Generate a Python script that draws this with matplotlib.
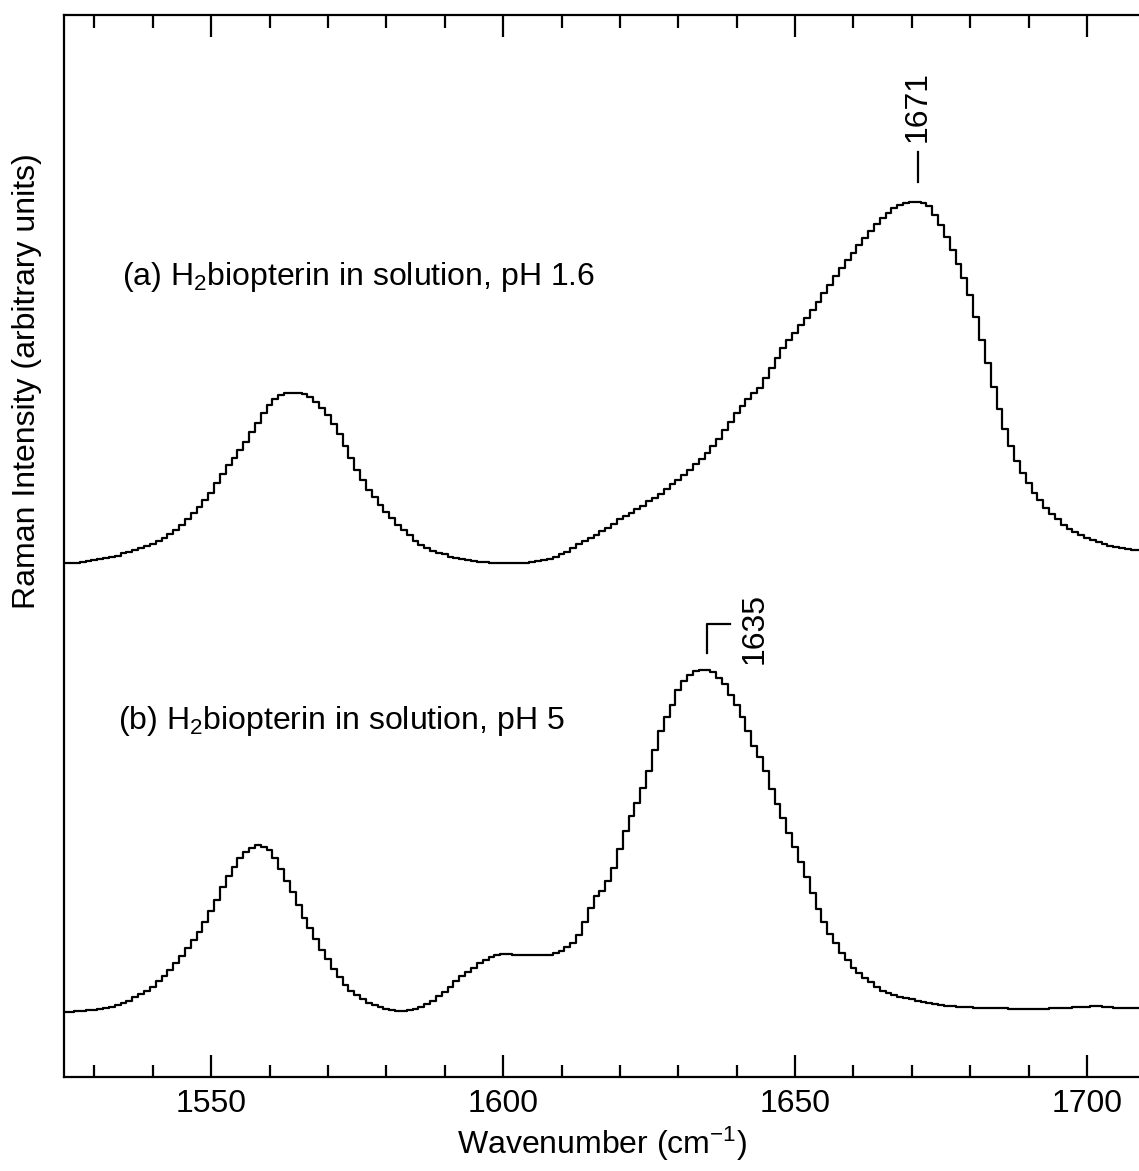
import numpy as np
import matplotlib
matplotlib.use("Agg")
import matplotlib.pyplot as plt
from matplotlib.ticker import MultipleLocator

plt.rcParams['font.family'] = ['Liberation Sans', 'DejaVu Sans']
plt.rcParams['mathtext.fontset'] = 'custom'
plt.rcParams['mathtext.rm'] = 'Liberation Sans'
plt.rcParams['mathtext.it'] = 'Liberation Sans:italic'

# --- spectra, one point per cm-1 starting at 1525 ---
WN_START = 1525

# (a) pH 1.6, offset upward
spec_a = [
    48.4, 48.4, 48.4, 48.5, 48.6, 48.7, 48.8, 48.9, 49.0, 49.1,   # 1525-1534
    49.3, 49.4, 49.6, 49.8, 50.0, 50.2, 50.5, 50.8, 51.1, 51.5,   # 1535-1544
    52.0, 52.5, 53.1, 53.7, 54.3, 55.0, 55.9, 56.8, 57.6, 58.3,   # 1545-1554
    59.0, 59.8, 60.7, 61.6, 62.5, 63.3, 63.8, 64.2, 64.4, 64.4,   # 1555-1564
    64.4, 64.3, 64.0, 63.6, 63.0, 62.3, 61.5, 60.5, 59.4, 58.3,   # 1565-1574
    57.2, 56.2, 55.3, 54.6, 53.9, 53.2, 52.6, 52.0, 51.5, 51.0,   # 1575-1584
    50.5, 50.1, 49.8, 49.5, 49.3, 49.2, 49.0, 48.9, 48.8, 48.7,   # 1585-1594
    48.6, 48.5, 48.5, 48.4, 48.4, 48.4, 48.4, 48.4, 48.4, 48.4,   # 1595-1604
    48.5, 48.6, 48.7, 48.8, 49.0, 49.2, 49.4, 49.8, 50.2, 50.5,   # 1605-1614
    50.8, 51.0, 51.4, 51.7, 52.1, 52.5, 52.8, 53.1, 53.5, 53.8,   # 1615-1624
    54.2, 54.5, 54.9, 55.4, 55.8, 56.2, 56.7, 57.2, 57.7, 58.2,   # 1625-1634
    58.8, 59.4, 60.1, 60.9, 61.7, 62.5, 63.2, 63.8, 64.4, 64.9,   # 1635-1644
    65.8, 66.8, 67.7, 68.6, 69.4, 70.1, 70.8, 71.5, 72.2, 73.0,   # 1645-1654
    73.8, 74.6, 75.4, 76.2, 76.9, 77.6, 78.3, 79.0, 79.7, 80.3,   # 1655-1664
    80.9, 81.4, 81.8, 82.1, 82.3, 82.4, 82.4, 82.3, 82.0, 81.2,   # 1665-1674
    80.2, 79.1, 77.9, 76.6, 75.2, 73.6, 71.6, 69.4, 67.2, 65.0,   # 1675-1684
    62.9, 61.0, 59.4, 58.0, 56.9, 55.9, 55.0, 54.3, 53.6, 53.0,   # 1685-1694
    52.5, 52.0, 51.6, 51.3, 51.0, 50.8, 50.6, 50.4, 50.2, 50.0,   # 1695-1704
    49.9, 49.8, 49.7, 49.6, 49.6,                                 # 1705-1709
]

# (b) pH 5
spec_b = [
    6.1, 6.1, 6.2, 6.2, 6.3, 6.3, 6.4, 6.5, 6.6, 6.8,             # 1525-1534
    7.0, 7.2, 7.5, 7.8, 8.1, 8.5, 9.0, 9.5, 10.1, 10.7,           # 1535-1544
    11.4, 12.1, 12.9, 13.7, 14.6, 15.6, 16.7, 17.9, 18.9, 19.8,   # 1545-1554
    20.6, 21.2, 21.6, 21.8, 21.7, 21.4, 20.6, 19.6, 18.5, 17.4,   # 1555-1564
    16.2, 15.0, 14.0, 13.0, 12.0, 11.1, 10.2, 9.4, 8.7, 8.1,      # 1565-1574
    7.7, 7.3, 7.0, 6.8, 6.6, 6.4, 6.3, 6.25, 6.25, 6.3,           # 1575-1584
    6.4, 6.6, 6.9, 7.2, 7.6, 8.0, 8.5, 9.0, 9.5, 9.9,             # 1585-1594
    10.3, 10.7, 11.0, 11.3, 11.5, 11.6, 11.6, 11.5, 11.5, 11.5,   # 1595-1604
    11.5, 11.5, 11.5, 11.5, 11.7, 11.9, 12.2, 12.6, 13.4, 14.6,   # 1605-1614
    15.9, 17.0, 17.5, 18.5, 19.7, 21.5, 23.2, 24.6, 25.8, 27.2,   # 1615-1624
    28.8, 30.8, 32.6, 33.9, 35.0, 36.4, 37.3, 37.9, 38.2, 38.3,   # 1625-1634
    38.3, 38.1, 37.6, 37.0, 36.0, 35.0, 33.9, 32.6, 31.2, 30.1,   # 1635-1644
    28.8, 27.1, 25.7, 24.4, 23.0, 21.7, 20.2, 18.8, 17.3, 15.8,   # 1645-1654
    14.6, 13.5, 12.6, 11.7, 11.0, 10.3, 9.8, 9.3, 8.9, 8.5,       # 1655-1664
    8.1, 7.9, 7.7, 7.5, 7.4, 7.3, 7.2, 7.1, 7.0, 6.9,             # 1665-1674
    6.8, 6.7, 6.7, 6.6, 6.6, 6.6, 6.5, 6.5, 6.5, 6.5,             # 1675-1684
    6.5, 6.5, 6.4, 6.4, 6.4, 6.4, 6.4, 6.4, 6.4, 6.5,             # 1685-1694
    6.5, 6.5, 6.5, 6.6, 6.6, 6.6, 6.7, 6.7, 6.6, 6.6,             # 1695-1704
    6.5, 6.5, 6.5, 6.5, 6.5,                                      # 1705-1709
]

labels = ["(a) H$_2$biopterin in solution, pH 1.6",
          "(b) H$_2$biopterin in solution, pH 5"]
peak_a = 1671
peak_b = 1635

FS = 23

wn = WN_START + np.arange(len(spec_a))

fig = plt.figure(figsize=(11.39, 11.71), dpi=100)
ax = fig.add_axes([64 / 1139, 94 / 1171, 1075 / 1139, 1062 / 1171])

ax.plot(wn, spec_a, drawstyle='steps-mid', color='black', lw=1.6)
ax.plot(wn, spec_b, drawstyle='steps-mid', color='black', lw=1.6)

ax.set_xlim(1524.8, 1708.9)
ax.set_ylim(0, 100)

# peak markers
ya = spec_a[peak_a - WN_START]
ax.plot([peak_a, peak_a], [ya + 1.9, ya + 4.7], color='black', lw=1.6)
ax.text(peak_a, ya + 5.6, str(peak_a), rotation=90, ha='center', va='bottom', fontsize=FS)

yb = spec_b[peak_b - WN_START]
ax.plot([peak_b, peak_b, peak_b + 3.9], [yb + 1.6, yb + 4.4, yb + 4.4], color='black', lw=1.6)
ax.text(peak_b + 8.0, yb + 0.6, str(peak_b), rotation=90, ha='center', va='bottom', fontsize=FS)

# spectrum labels
ax.text(1534.7, 75.3, labels[0], fontsize=FS, va='center', ha='left')
ax.text(1534.0, 33.5, labels[1], fontsize=FS, va='center', ha='left')

ax.xaxis.set_major_locator(MultipleLocator(50))
ax.xaxis.set_minor_locator(MultipleLocator(10))
ax.tick_params(axis='x', which='both', direction='in', top=True, bottom=True,
               width=1.6, labelsize=FS, pad=9)
ax.tick_params(axis='x', which='major', length=16)
ax.tick_params(axis='x', which='minor', length=9)
ax.set_yticks([])

for side in ('left', 'top', 'bottom'):
    ax.spines[side].set_linewidth(1.6)
ax.spines['right'].set_visible(False)

ax.set_xlabel("Wavenumber (cm$^{\\mathregular{-1}}$)", fontsize=FS, labelpad=4)
ax.set_ylabel("Raman Intensity (arbitrary units)", fontsize=FS)
ax.yaxis.set_label_coords(-0.02, 0.655)

fig.savefig("out.png", dpi=100)
